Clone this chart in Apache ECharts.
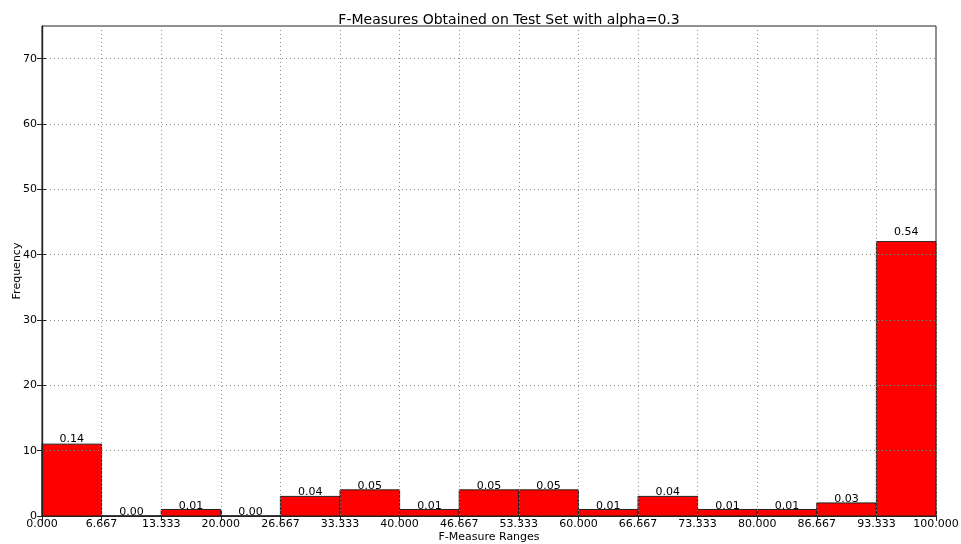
<!DOCTYPE html>
<html>
<head>
<meta charset="utf-8">
<script src="https://cdn.jsdelivr.net/npm/echarts@6/dist/echarts.min.js"></script>
<style>
  html, body { margin: 0; padding: 0; background: #fff; }
  #chart { width: 961px; height: 544px; }
</style>
</head>
<body>
<div id="chart"></div>
<script>
// Histogram of F-measure scores on the test set, 15 equal-width bins over 0..100
const binEdges = ['0.000', '6.667', '13.333', '20.000', '26.667', '33.333', '40.000', '46.667',
                  '53.333', '60.000', '66.667', '73.333', '80.000', '86.667', '93.333', '100.000'];
const counts = [11, 0, 1, 0, 3, 4, 1, 4, 4, 1, 3, 1, 1, 2, 42];
const yTicks = [0, 10, 20, 30, 40, 50, 60, 70];

const total = counts.reduce((a, b) => a + b, 0);
const FONT = 'DejaVu Sans';

const chart = echarts.init(document.getElementById('chart'), null, { renderer: 'canvas' });

const gridLine = { show: true, lineStyle: { color: '#8c8c8c', width: 1, type: [1, 3] } };
const tickIn = { show: true, inside: true, length: 5, lineStyle: { color: '#222' } };
const yTickIn = Object.assign({}, tickIn, { customValues: yTicks });
const frame = { show: true, lineStyle: { color: '#222', width: 1.2 } };

chart.setOption({
  backgroundColor: '#fff',
  animation: false,
  title: {
    text: 'F-Measures Obtained on Test Set with alpha=0.3',
    left: 504, top: 8, textAlign: 'center',
    textStyle: { fontFamily: FONT, fontSize: 14, fontWeight: 'normal', color: '#000' }
  },
  grid: { left: 42, right: 25, top: 26, bottom: 28, show: true, borderColor: '#222', borderWidth: 1,
          containLabel: false, outerBoundsMode: 'none' },
  xAxis: [{
    type: 'value', min: 0, max: binEdges.length - 1, interval: 1,
    name: 'F-Measure Ranges', nameLocation: 'middle', nameGap: 16, nameMoveOverlap: false,
    nameTextStyle: { fontFamily: FONT, fontSize: 11, color: '#000' },
    axisLine: frame,
    axisTick: tickIn,
    axisLabel: { fontFamily: FONT, fontSize: 11, color: '#000', margin: 3, formatter: v => binEdges[v] },
    splitLine: { show: false }
  }, {
    type: 'value', position: 'top', min: 0, max: binEdges.length - 1, interval: 1, z: 5,
    axisLine: frame,
    axisTick: tickIn, axisLabel: { show: false },
    splitLine: gridLine
  }],
  yAxis: [{
    type: 'value', min: 0, max: 75, interval: 10,
    name: 'Frequency', nameLocation: 'middle', nameGap: 19, nameMoveOverlap: false,
    nameTextStyle: { fontFamily: FONT, fontSize: 11, color: '#000' },
    axisLine: frame,
    axisTick: yTickIn,
    axisLabel: { fontFamily: FONT, fontSize: 11, color: '#000', margin: 5,
      formatter: v => (yTicks.indexOf(v) >= 0 ? String(v) : '') },
    splitLine: { show: false }
  }, {
    type: 'value', position: 'right', min: 0, max: 75, interval: 10, z: 5,
    axisLine: frame,
    axisTick: yTickIn, axisLabel: { show: false },
    splitLine: gridLine
  }],
  series: [{
    type: 'custom',
    xAxisIndex: 0, yAxisIndex: 0,
    z: 2,
    data: counts.map((c, i) => [i, c]),
    renderItem: function (params, api) {
      const i = api.value(0), h = api.value(1);
      const base = api.coord([i, 0]);
      const topRight = api.coord([i + 1, h]);
      const labelPt = api.coord([i + 0.5, h * 1.02]);
      return {
        type: 'group',
        children: [{
          type: 'rect',
          shape: { x: base[0], y: topRight[1], width: topRight[0] - base[0], height: base[1] - topRight[1] },
          style: { fill: '#ff0000', stroke: '#222', lineWidth: 1 }
        }, {
          type: 'text',
          z2: 10,
          style: {
            text: (h / total).toFixed(2),
            x: labelPt[0], y: labelPt[1] + 2,
            align: 'center', verticalAlign: 'bottom',
            fontFamily: FONT, fontSize: 11, fill: '#000'
          }
        }]
      };
    }
  }]
});
</script>
</body>
</html>
